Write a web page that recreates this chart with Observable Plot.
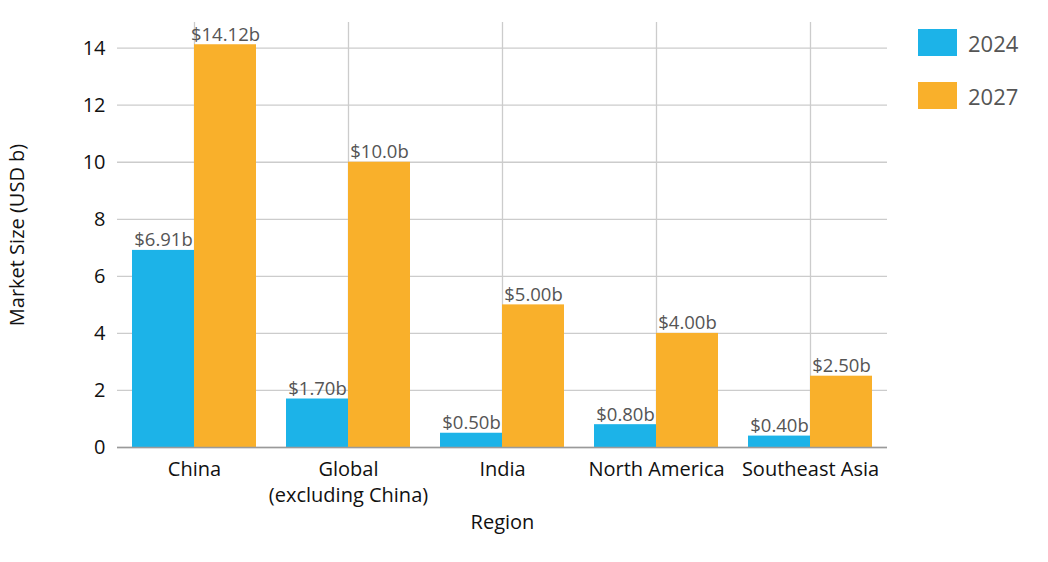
<!DOCTYPE html>
<html>
<head>
<meta charset="utf-8">
<script src="https://cdn.jsdelivr.net/npm/d3@7"></script>
<script src="https://cdn.jsdelivr.net/npm/@observablehq/plot@0.6"></script>
<style>
  body { margin: 0; background: #fff; font-family: "Open Sans", Lato, sans-serif; }
  #wrap { position: relative; width: 1048px; height: 562px; }
  #legend { position: absolute; left: 918px; top: 29px; }
  .item { display: flex; align-items: center; height: 27px; margin-bottom: 26px; }
  .sw { width: 39px; height: 27px; margin-right: 11px; }
  .lab { font-size: 22px; color: #555; }
</style>
</head>
<body>
<div id="wrap"><div id="legend"></div></div>
<script>
const regions = ["China", "Global (excluding China)", "India", "North America", "Southeast Asia"];
const regionTickLabels = ["China", "Global\n(excluding China)", "India", "North America", "Southeast Asia"];
const years = ["2024", "2027"];
const yearColors = ["#1cb3e8", "#f9b02b"];
const values2024 = [6.91, 1.70, 0.50, 0.80, 0.40];
const values2027 = [14.12, 10.0, 5.00, 4.00, 2.50];
const labels2024 = ["$6.91b", "$1.70b", "$0.50b", "$0.80b", "$0.40b"];
const labels2027 = ["$14.12b", "$10.0b", "$5.00b", "$4.00b", "$2.50b"];
const yTicks = [0, 2, 4, 6, 8, 10, 12, 14];

const data = [];
regions.forEach((r, i) => {
  data.push({region: r, year: years[0], value: values2024[i], label: labels2024[i]});
  data.push({region: r, year: years[1], value: values2027[i], label: labels2027[i]});
});
const tickMap = new Map(regions.map((r, i) => [r, regionTickLabels[i]]));

const chart = Plot.plot({
  width: 1048,
  height: 562,
  marginLeft: 117,
  marginRight: 161,
  marginTop: 22,
  marginBottom: 115,
  style: {fontFamily: "'Open Sans', Lato, sans-serif", fontSize: "18px", color: "#555", background: "#fff"},
  fx: {domain: regions, padding: 0},
  x: {domain: years, paddingInner: 0, paddingOuter: 0.24, axis: null},
  y: {domain: [0, 14.9]},
  color: {domain: years, range: yearColors},
  marks: [
    Plot.gridY(yTicks, {stroke: "#cccccc", strokeOpacity: 1, strokeWidth: 1.3}),
    Plot.gridFx({stroke: "#cccccc", strokeOpacity: 1, strokeWidth: 1.3}),
    Plot.barY(data, {fx: "region", x: "year", y: "value", fill: "year"}),
    Plot.ruleY([0], {stroke: "#9a9a9a", strokeWidth: 1.5}),
    Plot.text(data, {fx: "region", x: "year", y: "value", text: "label", dy: -4, lineAnchor: "bottom", fill: "#555", fontSize: 18.5}),
    Plot.axisY({ticks: yTicks, tickSize: 0, tickPadding: 12, fontSize: 20, fill: "#555",
      label: "Market Size (USD b)", labelAnchor: "center", labelOffset: 108, labelArrow: "none"}),
    Plot.axisFx({anchor: "bottom", tickSize: 0, tickPadding: 10, fontSize: 18, lineHeight: 1.3, fill: "#555",
      tickFormat: d => tickMap.get(d), label: "Region", labelAnchor: "center", labelOffset: 81, labelArrow: "none"})
  ]
});
chart.querySelectorAll("[aria-label$='label'] text, text[aria-label$='label']").forEach(t => {
  t.setAttribute("fill", "#111");
  t.setAttribute("font-size", "20");
});
document.getElementById("wrap").prepend(chart);

const legend = document.getElementById("legend");
years.forEach((y, i) => {
  const item = document.createElement("div");
  item.className = "item";
  item.innerHTML = `<div class="sw" style="background:${yearColors[i]}"></div><span class="lab">${y}</span>`;
  legend.appendChild(item);
});
</script>
</body>
</html>
